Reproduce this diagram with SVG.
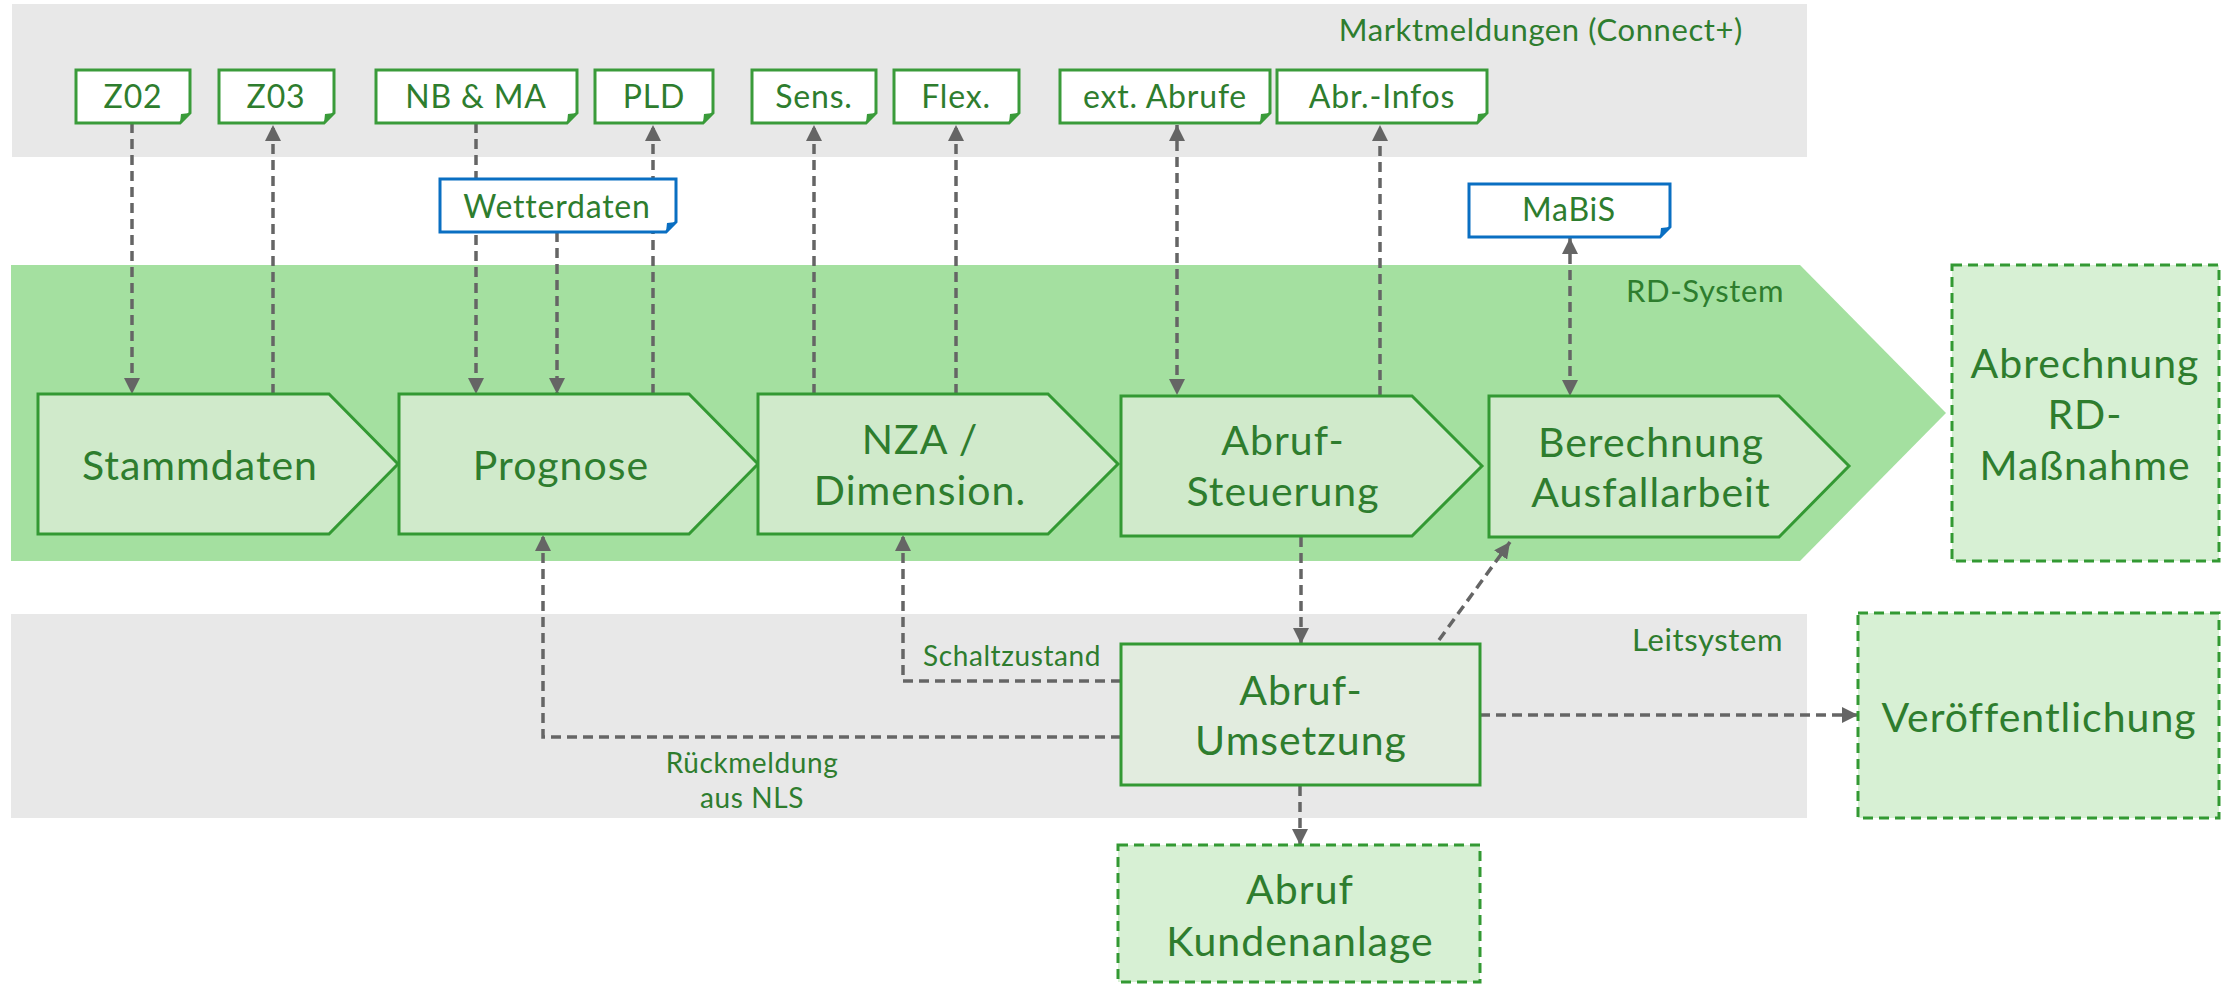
<svg xmlns="http://www.w3.org/2000/svg" width="2231" height="984" viewBox="0 0 2231 984">
<defs>
<style>
text{font-family:Lato,"Liberation Sans",sans-serif;fill:#2e7d2e}
.tag{fill:#ffffff;stroke:#3a9b3a;stroke-width:3}
.tagb{fill:#ffffff;stroke:#0a6fc2;stroke-width:3}
.fold{fill:#3a9b3a}
.foldb{fill:#0a6fc2}
.tt{font-size:32px;letter-spacing:0.8px;text-anchor:middle}
.proc{fill:#d0eacb;stroke:#339933;stroke-width:3}
.pt{font-size:41px;letter-spacing:1px;text-anchor:middle}
.ext{fill:#d7f0d4;stroke:#339933;stroke-width:3;stroke-dasharray:10 6}
.lbl{font-size:31px;letter-spacing:0.6px;text-anchor:end}
.cl{font-size:28px;letter-spacing:0.6px}
.con{fill:none;stroke:#656565;stroke-width:3.5;stroke-dasharray:10 6}
</style>
<marker id="ah" markerUnits="userSpaceOnUse" viewBox="0 0 16 16" markerWidth="16" markerHeight="16" refX="16" refY="8" orient="auto-start-reverse">
<path d="M0,0 L16,8 L0,16 Z" fill="#656565"/>
</marker>
</defs>
<rect width="2231" height="984" fill="#ffffff"/>
<g id="bands">
<rect x="12" y="4" width="1795" height="153" fill="#e8e8e8"/>
<rect x="11" y="614" width="1796" height="204" fill="#e8e8e8"/>
<path d="M11,265 H1800 L1946,413 L1800,561 H11 Z" fill="#a4e0a0"/>
<text class="lbl" x="1743" y="41">Marktmeldungen (Connect+)</text>
<text class="lbl" x="1784" y="302">RD-System</text>
<text class="lbl" x="1783" y="651">Leitsystem</text>
</g>
<g id="connectors">
<path class="con" d="M132,123 V394" marker-end="url(#ah)"/>
<path class="con" d="M273,394 V125" marker-end="url(#ah)"/>
<path class="con" d="M476,123 V394" marker-end="url(#ah)"/>
<path class="con" d="M557,232 V394" marker-end="url(#ah)"/>
<path class="con" d="M653,394 V125" marker-end="url(#ah)"/>
<path class="con" d="M814,394 V125" marker-end="url(#ah)"/>
<path class="con" d="M956,394 V125" marker-end="url(#ah)"/>
<path class="con" d="M1177,125 V395" marker-start="url(#ah)" marker-end="url(#ah)"/>
<path class="con" d="M1380,396 V125" marker-end="url(#ah)"/>
<path class="con" d="M1570,238 V396" marker-start="url(#ah)" marker-end="url(#ah)"/>
<path class="con" d="M1301,537 V644" marker-end="url(#ah)"/>
<path class="con" d="M1439,640 L1510,542" marker-end="url(#ah)"/>
<path class="con" d="M1121,681 H903 V535" marker-end="url(#ah)"/>
<path class="con" d="M1121,737 H543 V535" marker-end="url(#ah)"/>
<path class="con" d="M1480,715 H1858" marker-end="url(#ah)"/>
<path class="con" d="M1300,786 V845" marker-end="url(#ah)"/>
<text class="cl" x="923" y="666">Schaltzustand</text>
<text class="cl" x="752" y="773" text-anchor="middle">Rückmeldung</text>
<text class="cl" x="752" y="808" text-anchor="middle">aus NLS</text>
</g>
<g id="z02"><path class="tag" d="M76,70 H190 V113 L180,123 H76 Z"/><path class="fold" d="M190,113 L180,123 L181,114 Z"/><text class="tt" x="133" y="108">Z02</text></g>
<g id="z03"><path class="tag" d="M219,70 H334 V113 L324,123 H219 Z"/><path class="fold" d="M334,113 L324,123 L325,114 Z"/><text class="tt" x="276" y="108">Z03</text></g>
<g id="nbma"><path class="tag" d="M376,70 H577 V113 L567,123 H376 Z"/><path class="fold" d="M577,113 L567,123 L568,114 Z"/><text class="tt" x="476" y="108">NB &amp; MA</text></g>
<g id="pld"><path class="tag" d="M595,70 H713 V113 L703,123 H595 Z"/><path class="fold" d="M713,113 L703,123 L704,114 Z"/><text class="tt" x="654" y="108">PLD</text></g>
<g id="sens"><path class="tag" d="M752,70 H876 V113 L866,123 H752 Z"/><path class="fold" d="M876,113 L866,123 L867,114 Z"/><text class="tt" x="814" y="108">Sens.</text></g>
<g id="flex"><path class="tag" d="M894,70 H1019 V113 L1009,123 H894 Z"/><path class="fold" d="M1019,113 L1009,123 L1010,114 Z"/><text class="tt" x="956" y="108">Flex.</text></g>
<g id="extabrufe"><path class="tag" d="M1060,70 H1270 V113 L1260,123 H1060 Z"/><path class="fold" d="M1270,113 L1260,123 L1261,114 Z"/><text class="tt" x="1165" y="108">ext. Abrufe</text></g>
<g id="abrinfos"><path class="tag" d="M1277,70 H1487 V113 L1477,123 H1277 Z"/><path class="fold" d="M1487,113 L1477,123 L1478,114 Z"/><text class="tt" x="1382" y="108">Abr.-Infos</text></g>
<g id="wetterdaten"><path class="tagb" d="M440,179 H676 V222 L666,232 H440 Z"/><path class="foldb" d="M676,222 L666,232 L667,223 Z"/><text class="tt" x="557" y="218">Wetterdaten</text></g>
<g id="mabis"><path class="tagb" d="M1469,184 H1670 V227 L1660,237 H1469 Z"/><path class="foldb" d="M1670,227 L1660,237 L1661,228 Z"/><text class="tt" x="1569" y="221">MaBiS</text></g>
<g id="stammdaten"><path class="proc" d="M38,394 H329 L398,464 L329,534 H38 Z"/><text class="pt" x="200" y="480">Stammdaten</text></g>
<g id="prognose"><path class="proc" d="M399,394 H689 L758,464 L689,534 H399 Z"/><text class="pt" x="561" y="480">Prognose</text></g>
<g id="nza"><path class="proc" d="M758,394 H1048 L1118,464 L1048,534 H758 Z"/><text class="pt" x="920" y="454">NZA /</text><text class="pt" x="920" y="505">Dimension.</text></g>
<g id="abrufsteuerung"><path class="proc" d="M1121,396 H1412 L1482,466 L1412,536 H1121 Z"/><text class="pt" x="1283" y="455">Abruf-</text><text class="pt" x="1283" y="506">Steuerung</text></g>
<g id="berechnung"><path class="proc" d="M1489,396 H1779 L1849,466 L1779,537 H1489 Z"/><text class="pt" x="1651" y="457">Berechnung</text><text class="pt" x="1651" y="507">Ausfallarbeit</text></g>
<g id="abrechnung"><rect class="ext" x="1952" y="265" width="267" height="296"/><text class="pt" x="2085" y="378">Abrechnung</text><text class="pt" x="2085" y="429">RD-</text><text class="pt" x="2085" y="480">Maßnahme</text></g>
<g id="abrufumsetzung"><rect x="1121" y="644" width="359" height="141" fill="#e2ecdf" stroke="#339933" stroke-width="3"/><text class="pt" x="1301" y="705">Abruf-</text><text class="pt" x="1301" y="755">Umsetzung</text></g>
<g id="veroeffentlichung"><rect class="ext" x="1858" y="613" width="361" height="205"/><text class="pt" x="2039" y="732">Veröffentlichung</text></g>
<g id="abrufkundenanlage"><rect class="ext" x="1118" y="845" width="362" height="137"/><text class="pt" x="1300" y="904">Abruf</text><text class="pt" x="1300" y="956">Kundenanlage</text></g>
</svg>
